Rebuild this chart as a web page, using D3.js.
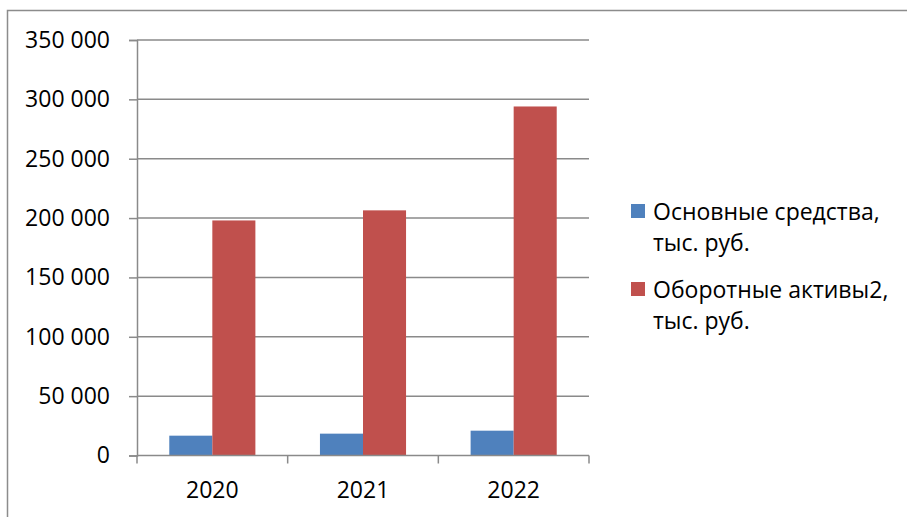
<!DOCTYPE html>
<html>
<head>
<meta charset="utf-8">
<script src="https://cdn.jsdelivr.net/npm/d3@7"></script>
<style>
  html, body { margin: 0; padding: 0; background: #fff; }
  svg { display: block; font-family: "Open Sans", "Liberation Sans", sans-serif; }
</style>
</head>
<body>
<svg id="chart" width="907" height="517"></svg>
<script>
// Years on the category axis
const years = ["2020", "2021", "2022"];
// Series names (legend text, two lines each)
const seriesNames = [
  ["Основные средства,", "тыс. руб."],
  ["Оборотные активы2,", "тыс. руб."]
];
// Values, thousand rubles
const fixedAssets = [16700, 18400, 20900];
const currentAssets = [198000, 206500, 294000];
// Value axis ticks
const yTicks = [0, 50000, 100000, 150000, 200000, 250000, 300000, 350000];

const colors = ["#4f81bd", "#c0504d"];
const series = [fixedAssets, currentAssets];

const svg = d3.select("#chart");
const W = 907, H = 517;

// outer chart frame
svg.append("rect")
  .attr("x", 7.5).attr("y", 10.5)
  .attr("width", W + 10).attr("height", H + 10)
  .attr("fill", "#fff").attr("stroke", "#8c8c8c").attr("stroke-width", 1.5);

const plot = { left: 137, right: 589, top: 40, bottom: 455.5 };

const x0 = d3.scaleBand().domain(years).range([plot.left, plot.right]).padding(0);
const y = d3.scaleLinear().domain([0, 350000]).range([plot.bottom, plot.top]);

const bw = x0.bandwidth();
const barW = bw / 3.5;          // gap width 150%
const groupOffset = bw * 0.75 / 3.5;

const fmt = v => d3.format(",")(v).replace(/,/g, " ");

// horizontal gridlines
svg.append("g")
  .selectAll("line")
  .data(yTicks.filter(t => t > 0))
  .join("line")
  .attr("x1", plot.left).attr("x2", plot.right)
  .attr("y1", d => y(d)).attr("y2", d => y(d))
  .attr("stroke", "#8a8a8a").attr("stroke-width", 1.5);

// y axis
const yAxis = d3.axisLeft(y).tickValues(yTicks).tickFormat(fmt).tickSize(8).tickPadding(19);
const gy = svg.append("g").attr("transform", `translate(${plot.left},0)`).call(yAxis);
gy.select(".domain").attr("stroke", "#8a8a8a").attr("stroke-width", 1.5);
gy.selectAll(".tick line").attr("stroke", "#8a8a8a").attr("stroke-width", 1.5);
gy.selectAll(".tick text")
  .attr("font-size", 23).attr("fill", "#000")
  .attr("font-family", "Open Sans, Liberation Sans, sans-serif");

// bars
years.forEach((yr, i) => {
  series.forEach((s, j) => {
    svg.append("rect")
      .attr("x", x0(yr) + groupOffset + j * barW)
      .attr("y", y(s[i]))
      .attr("width", barW)
      .attr("height", y(0) - y(s[i]))
      .attr("fill", colors[j]);
  });
});

// x axis with tick marks at category boundaries
const gx = svg.append("g");
gx.append("line")
  .attr("x1", plot.left).attr("x2", plot.right)
  .attr("y1", y(0)).attr("y2", y(0))
  .attr("stroke", "#8a8a8a").attr("stroke-width", 1.5);
const bounds = years.map(d => x0(d)).concat([plot.right]);
gx.selectAll("line.tk").data(bounds).join("line")
  .attr("class", "tk")
  .attr("x1", d => d).attr("x2", d => d)
  .attr("y1", y(0)).attr("y2", y(0) + 8)
  .attr("stroke", "#8a8a8a").attr("stroke-width", 1.5);
gx.selectAll("text").data(years).join("text")
  .attr("x", d => x0(d) + bw / 2)
  .attr("y", 498)
  .attr("text-anchor", "middle")
  .attr("font-size", 23).attr("fill", "#000")
  .text(d => d);

// legend
const legend = svg.append("g");
const legendY = [220, 298];
seriesNames.forEach((lines, j) => {
  legend.append("rect")
    .attr("x", 631).attr("y", legendY[j] - 16)
    .attr("width", 14).attr("height", 14)
    .attr("fill", colors[j]);
  lines.forEach((t, k) => {
    legend.append("text")
      .attr("x", 653).attr("y", legendY[j] + k * 30.5)
      .attr("font-size", 23).attr("fill", "#000")
      .text(t);
  });
});
</script>
</body>
</html>
